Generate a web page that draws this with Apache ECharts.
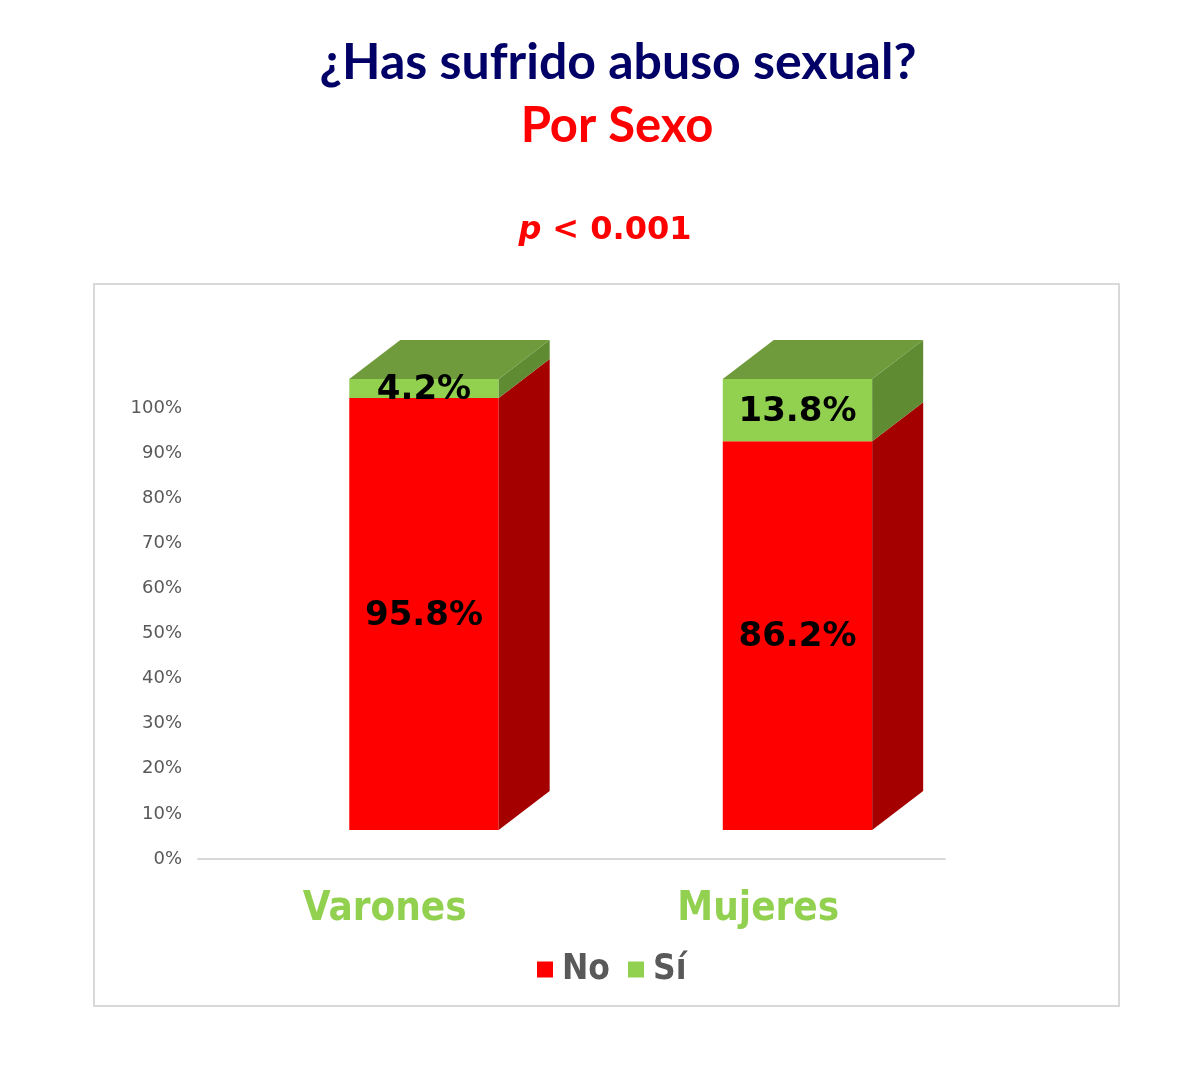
<!DOCTYPE html>
<html>
<head>
<meta charset="utf-8">
<title>¿Has sufrido abuso sexual? Por Sexo</title>
<script src="https://cdn.jsdelivr.net/npm/echarts@6/dist/echarts.min.js"></script>
<style>
  html, body { margin: 0; padding: 0; background: #fff; }
  #chart { width: 1203px; height: 1067px; }
</style>
</head>
<body>
<div id="chart"></div>
<script>
const categories = ['Varones', 'Mujeres'];
const noValues = [95.8, 86.2];
const siValues = [4.2, 13.8];
const yTicks = [0, 10, 20, 30, 40, 50, 60, 70, 80, 90, 100];

window.addEventListener('load', function() {
    renderChart();
});

// 3D-ish box segment: front face, right side face, optional top face
function boxRenderer(front, side, top, withTop) {
    return function(params, api) {
        const cat = api.value(0);
        const start = api.value(1);
        const end = api.value(2);
        const band = api.size([1, 0])[0];
        const w = band * 0.4;
        const fx = band * 0.105;
        const dx = 51, dy = 39, fy = -29;
        const p0 = api.coord([cat, start]);
        const p1 = api.coord([cat, end]);
        const xL = p0[0] + fx - w / 2;
        const xR = xL + w;
        const yB = p0[1] + fy;
        const yT = p1[1] + fy;
        const children = [
            { type: 'rect', shape: { x: xL, y: yT, width: w, height: yB - yT }, style: { fill: front } },
            { type: 'polygon', shape: { points: [[xR, yT], [xR + dx, yT - dy], [xR + dx, yB - dy], [xR, yB]] }, style: { fill: side } }
        ];
        if (withTop) {
            children.push({ type: 'polygon', shape: { points: [[xL, yT], [xL + dx, yT - dy], [xR + dx, yT - dy], [xR, yT]] }, style: { fill: top } });
        }
        children.push({
            type: 'text',
            x: xL + w / 2,
            y: (yT + yB) / 2 + 2,
            style: {
                text: (end - start).toFixed(1) + '%',
                align: 'center',
                verticalAlign: 'middle',
                fill: '#000',
                font: 'bold 34px "DejaVu Sans", Verdana, sans-serif'
            },
            z2: 10
        });
        return { type: 'group', children: children };
    };
}

function renderChart() {
    const chartDom = document.getElementById('chart');
    const myChart = echarts.init(chartDom);

    const noData = categories.map((c, i) => [i, 0, noValues[i]]);
    const siData = categories.map((c, i) => [i, noValues[i], noValues[i] + siValues[i]]);

    const option = {
        backgroundColor: '#fff',
        animation: false,
        title: [
            {
                text: '¿Has sufrido abuso sexual?',
                left: 613,
                textAlign: 'center',
                top: 33,
                textStyle: { color: '#000066', fontSize: 50, fontWeight: 'bold', fontFamily: 'Lato, "Open Sans", sans-serif' }
            },
            {
                text: 'Por Sexo',
                left: 612,
                textAlign: 'center',
                top: 97,
                textStyle: { color: '#ff0000', fontSize: 49, fontWeight: 'bold', fontFamily: 'Lato, "Open Sans", sans-serif' }
            },
            {
                text: '{i|p} {n|< 0.001}',
                left: 600,
                textAlign: 'center',
                top: 210,
                textStyle: {
                    rich: {
                        i: { color: '#ff0000', fontSize: 32, fontWeight: 'bold', fontStyle: 'italic', padding: [0, 6, 0, 0], fontFamily: '"DejaVu Sans", Verdana, sans-serif' },
                        n: { color: '#ff0000', fontSize: 32, fontWeight: 'bold', fontFamily: '"DejaVu Sans", Verdana, sans-serif' }
                    }
                }
            }
        ],
        graphic: [
            {
                type: 'rect',
                shape: { x: 94, y: 284, width: 1025, height: 722 },
                style: { fill: 'none', stroke: '#d9d9d9', lineWidth: 2 },
                silent: true
            }
        ],
        legend: {
            data: ['No', 'Sí'],
            left: 532,
            top: 947,
            icon: 'rect',
            itemWidth: 16,
            itemHeight: 16,
            itemGap: 18,
            textStyle: {
                color: '#595959',
                fontSize: 35,
                fontWeight: 'bold',
                padding: [0, 0, 0, 4],
                fontFamily: '"DejaVu Sans Condensed", "DejaVu Sans", sans-serif'
            }
        },
        grid: {
            left: 198,
            right: 258,
            top: 408,
            bottom: 208,
            containLabel: false
        },
        xAxis: {
            type: 'category',
            data: categories,
            axisLine: { show: true, lineStyle: { color: '#d9d9d9', width: 2 } },
            axisTick: { show: false },
            axisLabel: {
                margin: 31,
                color: '#92d050',
                fontSize: 40,
                fontWeight: 'bold',
                fontFamily: '"DejaVu Sans Condensed", "DejaVu Sans", sans-serif'
            }
        },
        yAxis: {
            type: 'value',
            min: yTicks[0],
            max: yTicks[yTicks.length - 1],
            interval: yTicks[1] - yTicks[0],
            splitLine: { show: false },
            axisLine: { show: false },
            axisTick: { show: false },
            axisLabel: {
                margin: 16,
                formatter: '{value}%',
                color: '#595959',
                fontSize: 18,
                fontFamily: '"DejaVu Sans", Verdana, sans-serif'
            }
        },
        series: [
            {
                name: 'No',
                type: 'custom',
                renderItem: boxRenderer('#ff0000', '#a50000', '#a50000', false),
                encode: { x: 0, y: [1, 2] },
                itemStyle: { color: '#ff0000' },
                data: noData
            },
            {
                name: 'Sí',
                type: 'custom',
                renderItem: boxRenderer('#92d050', '#5f8b32', '#6f9b3c', true),
                encode: { x: 0, y: [1, 2] },
                itemStyle: { color: '#92d050' },
                data: siData
            }
        ]
    };

    myChart.setOption(option);
}
</script>
</body>
</html>
